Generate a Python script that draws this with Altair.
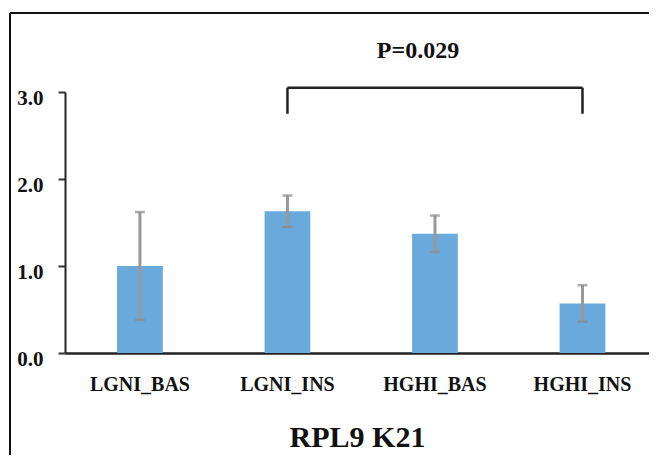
import altair as alt
import pandas as pd

categories = ["LGNI_BAS", "LGNI_INS", "HGHI_BAS", "HGHI_INS"]
means = [1.00, 1.63, 1.37, 0.57]
err = [0.62, 0.18, 0.21, 0.21]
p_label = "P=0.029"
chart_title = "RPL9 K21"

bars_df = pd.DataFrame({
    "group": categories,
    "mean": means,
    "lo": [m - e for m, e in zip(means, err)],
    "hi": [m + e for m, e in zip(means, err)],
})

bracket_h = pd.DataFrame({"x": ["LGNI_INS"], "x2": ["HGHI_INS"], "y": [3.05]})
bracket_v = pd.DataFrame({"x": ["LGNI_INS", "HGHI_INS"], "y": [2.75, 2.75], "y2": [3.05, 3.05]})
ptext_df = pd.DataFrame({"x": ["HGHI_BAS"], "y": [3.477], "t": [p_label]})

FONT = "Liberation Serif"

xscale = alt.Scale(domain=categories, paddingInner=0.69, paddingOuter=0.3245, align=0.544)
yscale = alt.Scale(domain=[0, 3])

xenc = alt.X("group:N", scale=xscale, sort=categories,
             axis=alt.Axis(title=chart_title, labelAngle=0, ticks=False, tickSize=0,
                           labelPadding=21, labelFont=FONT, labelFontWeight="bold",
                           labelFontSize=20, labelColor="#111",
                           titleFont=FONT, titleFontWeight="bold", titleFontSize=30,
                           titleColor="#111", titlePadding=28,
                           domainColor="#222", domainWidth=2.5))
yenc = alt.Y("mean:Q", scale=yscale,
             axis=alt.Axis(title=None, values=[0, 1, 2, 3], format=".1f", grid=False,
                           tickSize=7, tickWidth=2, tickColor="#333",
                           domainColor="#222", domainWidth=2,
                           labelFont=FONT, labelFontWeight="bold", labelFontSize=21,
                           labelColor="#111", labelPadding=15, labelOffset=6))

bars = alt.Chart(bars_df).mark_bar(color="#6aa9dc").encode(x=xenc, y=yenc)

err_rule = alt.Chart(bars_df).mark_rule(color="#999999", strokeWidth=3).encode(
    x=alt.X("group:N", scale=xscale, sort=categories),
    y=alt.Y("lo:Q", scale=yscale),
    y2="hi:Q",
)
err_cap_hi = alt.Chart(bars_df).mark_tick(color="#8a8a8a", thickness=2.5, size=10, orient="horizontal").encode(
    x=alt.X("group:N", scale=xscale, sort=categories),
    y=alt.Y("hi:Q", scale=yscale),
)
err_cap_lo = alt.Chart(bars_df).mark_tick(color="#8a8a8a", thickness=2.5, size=10, orient="horizontal").encode(
    x=alt.X("group:N", scale=xscale, sort=categories),
    y=alt.Y("lo:Q", scale=yscale),
)

br_h = alt.Chart(bracket_h).mark_rule(color="#222", strokeWidth=2.5).encode(
    x=alt.X("x:N", scale=xscale, sort=categories),
    x2="x2:N",
    y=alt.Y("y:Q", scale=yscale),
)
br_v = alt.Chart(bracket_v).mark_rule(color="#222", strokeWidth=2.5).encode(
    x=alt.X("x:N", scale=xscale, sort=categories),
    y=alt.Y("y:Q", scale=yscale),
    y2="y2:Q",
)
ptext = alt.Chart(ptext_df).mark_text(font=FONT, fontWeight="bold", fontSize=24,
                                      color="#111", dx=-17, baseline="middle").encode(
    x=alt.X("x:N", scale=xscale, sort=categories),
    y=alt.Y("y:Q", scale=yscale),
    text="t:N",
)

frame_top = alt.Chart(bracket_h).mark_rule(color="#111", strokeWidth=2).encode(
    x=alt.value(-55), x2=alt.value(800), y=alt.value(-79))
frame_left = alt.Chart(bracket_h).mark_rule(color="#111", strokeWidth=2).encode(
    x=alt.value(-55), y=alt.value(-79), y2=alt.value(600))

chart = alt.layer(frame_top, frame_left, bars, err_rule, err_cap_hi, err_cap_lo,
                  br_h, br_v, ptext).properties(
    width=584, height=261,
    background="white",
    autosize=alt.AutoSizeParams(type="none"),
    padding={"left": 57, "top": 84, "right": 0, "bottom": 102},
).configure_view(stroke=None)

chart.save("out.html", embed_options={"renderer": "svg", "actions": False})
